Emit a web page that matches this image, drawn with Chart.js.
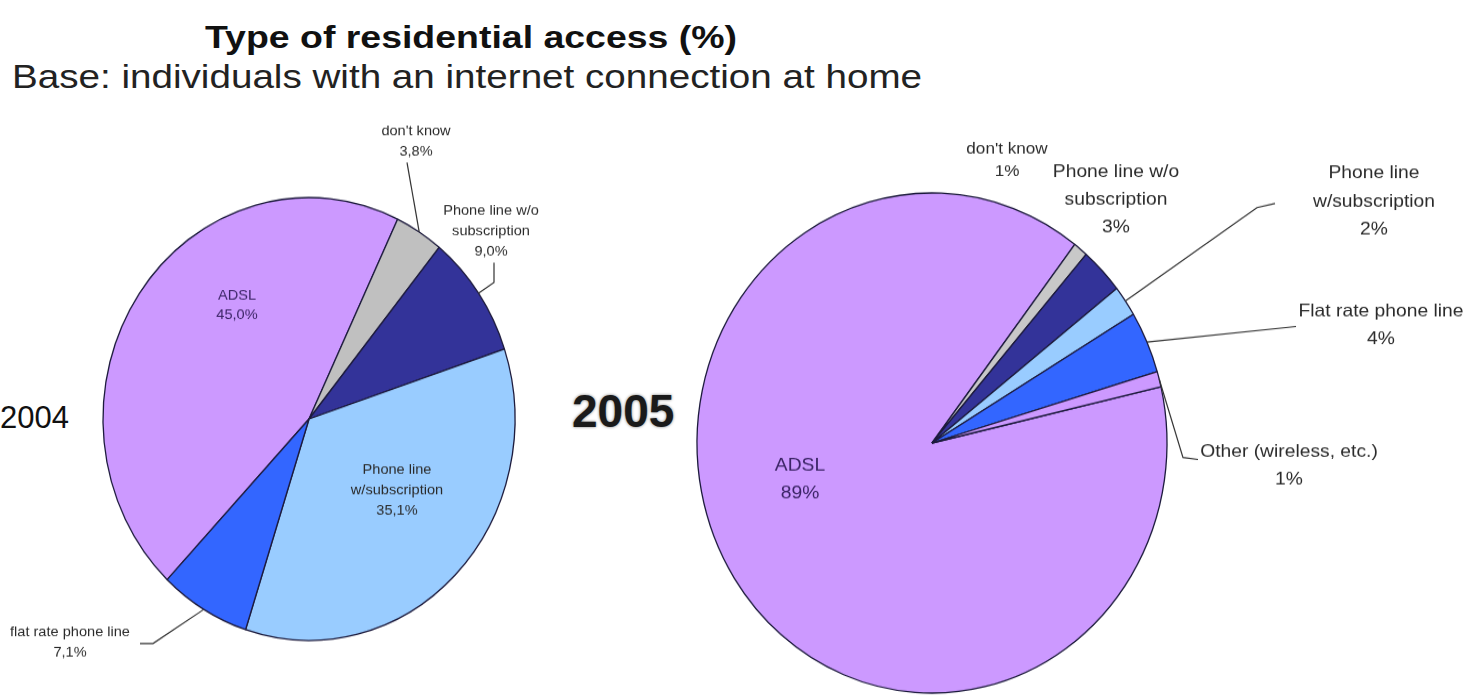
<!DOCTYPE html>
<html>
<head>
<meta charset="utf-8">
<title>Type of residential access</title>
<script src="https://cdn.jsdelivr.net/npm/chart.js@4.4.1/dist/chart.umd.min.js"></script>
<style>
  body { margin: 0; background: #fff; width: 1469px; height: 695px; overflow: hidden; position: relative;
         font-family: "Liberation Sans", Arial, sans-serif; }
  .txt { position: absolute; white-space: nowrap; color: #111; }
  #title { left: 0; width: 942px; top: 19px; text-align: center; font-weight: bold; font-size: 32px;
           transform: scaleX(1.17); transform-origin: 471px 0; }
  #subtitle { left: 12px; top: 58px; font-size: 33px; color: #222; transform: scaleX(1.17); transform-origin: 0 0; }
  #y2004 { left: 0; top: 400px; font-size: 31px; }
  #y2005 { left: 572px; top: 384px; font-size: 46px; font-weight: bold; letter-spacing: 0; color: #1a1a1a;
           text-shadow: 0 0 3px rgba(0,0,0,0.55); }
  canvas { position: absolute; transform-origin: 50% 50%; }
</style>
</head>
<body>
<div id="title" class="txt">Type of residential access (%)</div>
<div id="subtitle" class="txt">Base: individuals with an internet connection at home</div>
<div id="y2004" class="txt">2004</div>
<div id="y2005" class="txt">2005</div>
<canvas id="pie2004" width="560" height="600"></canvas>
<canvas id="pie2005" width="909" height="620"></canvas>
<script>
// 2004 survey
const categories2004 = ['ADSL', "don't know", ['Phone line w/o', 'subscription'], ['Phone line', 'w/subscription'], 'flat rate phone line'];
const values2004 = [45.0, 3.8, 9.0, 35.1, 7.1];

// 2005 survey
const categories2005 = ['ADSL', "don't know", ['Phone line w/o', 'subscription'], ['Phone line', 'w/subscription'], 'Flat rate phone line', 'Other (wireless, etc.)'];
const values2005 = [89, 1, 3, 2, 4, 1];

const colors2004 = ['#CC99FF', '#C0C0C0', '#333399', '#99CCFF', '#3366FF'];
const colors2005 = ['#CC99FF', '#C8C8C8', '#333399', '#99CCFF', '#3366FF', '#CC99FF'];

// where each label block sits (page coordinates) and the bends of its leader line
const labelPos2004 = [
  { x: 237, y: 295, color: '#3b2466' },
  { x: 416, y: 131, leader: [[407, 162]] },
  { x: 491, y: 211, leader: [[494, 262], [494, 282]] },
  { x: 397, y: 470 },
  { x: 70, y: 632, leader: [[140, 643], [153, 643]] }
];
const labelPos2005 = [
  { x: 800, y: 465, color: '#3b2466' },
  { x: 1007, y: 149, size: 16, gap: 22 },
  { x: 1116, y: 171 },
  { x: 1374, y: 173, leader: [[1275, 203], [1257, 207]] },
  { x: 1381, y: 311, leader: [[1296, 326]] },
  { x: 1289, y: 451, leader: [[1198, 459], [1183, 457]] }
];

// canvas placement: each pie is stretched vertically into an ellipse
function place(canvas, left, top, stretch) {
  canvas.style.left = left + 'px';
  canvas.style.top = top + 'px';
  canvas.style.transform = 'scaleY(' + stretch + ')';
}

const sliceLabels = {
  id: 'sliceLabels',
  afterDatasetsDraw(chart, args, opts) {
    const ctx = chart.ctx;
    const h2 = chart.height / 2;
    const meta = chart.getDatasetMeta(0);
    const labels = chart.data.labels;
    const values = chart.data.datasets[0].data;
    ctx.save();
    // draw in page coordinates, undoing the vertical stretch
    ctx.translate(-opts.left, h2);
    ctx.scale(1, 1 / opts.stretch);
    ctx.translate(0, -opts.top - h2);
    ctx.textAlign = 'center';
    ctx.textBaseline = 'middle';
    meta.data.forEach((arc, i) => {
      const p = opts.positions[i];
      const lines = [].concat(labels[i], opts.format(values[i]) + '%');
      const gap = p.gap || opts.lineHeight;
      ctx.font = (p.size || opts.fontSize) + 'px "Liberation Sans", Arial, sans-serif';
      ctx.fillStyle = p.color || '#2a2a2a';
      lines.forEach((s, k) => {
        ctx.save();
        ctx.translate(p.x, p.y + k * gap);
        ctx.scale(opts.widen, 1);
        ctx.fillText(s, 0, 0);
        ctx.restore();
      });
      if (p.leader) {
        const a = (arc.startAngle + arc.endAngle) / 2;
        const ex = opts.left + arc.x + arc.outerRadius * Math.cos(a);
        const ey = opts.top + h2 + opts.stretch * arc.outerRadius * Math.sin(a);
        ctx.beginPath();
        ctx.moveTo(p.leader[0][0], p.leader[0][1]);
        p.leader.slice(1).forEach(q => ctx.lineTo(q[0], q[1]));
        ctx.lineTo(ex, ey);
        ctx.strokeStyle = '#333';
        ctx.lineWidth = 1.2;
        ctx.stroke();
      }
    });
    ctx.restore();
  }
};

function makePie(id, cats, vals, colors, cfg) {
  const canvas = document.getElementById(id);
  place(canvas, cfg.left, cfg.top, cfg.stretch);
  return new Chart(canvas, {
    type: 'pie',
    data: {
      labels: cats,
      datasets: [{
        data: vals,
        backgroundColor: colors,
        borderColor: '#1c1a3c',
        borderWidth: 1.3,
        radius: cfg.radius,
        rotation: cfg.rotation
      }]
    },
    options: {
      responsive: false,
      animation: false,
      events: [],
      layout: { padding: cfg.padding },
      plugins: {
        legend: { display: false },
        tooltip: { enabled: false },
        sliceLabels: {
          left: cfg.left, top: cfg.top, stretch: cfg.stretch,
          positions: cfg.positions, fontSize: cfg.fontSize, lineHeight: cfg.lineHeight,
          widen: cfg.widen, format: cfg.format
        }
      }
    },
    plugins: [sliceLabels]
  });
}

makePie('pie2004', categories2004, values2004, colors2004, {
  left: 0, top: 118.5, stretch: 1.075, radius: 206, rotation: 223.5,
  padding: { left: 58, right: 0, top: 0, bottom: 0 },
  positions: labelPos2004, fontSize: 13.5, lineHeight: 20, widen: 1.08,
  format: v => v.toFixed(1).replace('.', ',')
});

makePie('pie2005', categories2005, values2005, colors2005, {
  left: 560, top: 132.5, stretch: 1.064, radius: 235, rotation: 77,
  padding: { left: 0, right: 165, top: 0, bottom: 0 },
  positions: labelPos2005, fontSize: 18, lineHeight: 28, widen: 1.07,
  format: v => String(v)
});
</script>
</body>
</html>
